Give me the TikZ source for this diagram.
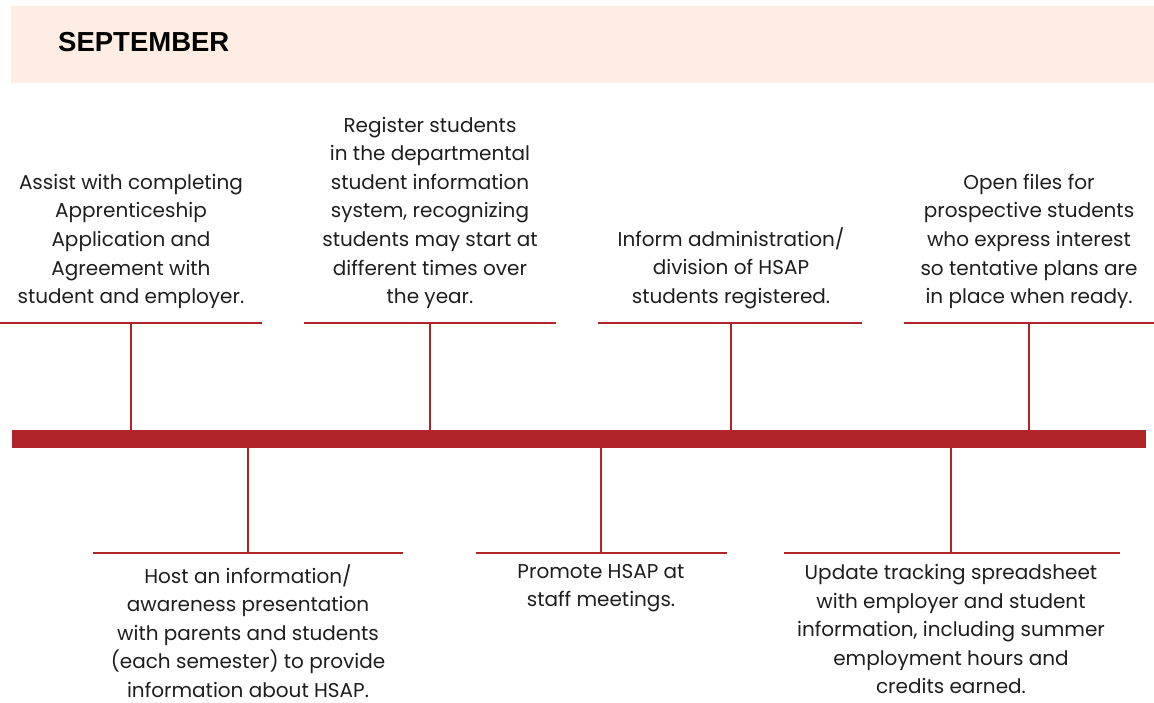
\documentclass[tikz,border=0pt]{standalone}
\usepackage{fontspec}
\setmainfont{Poppins}
\newfontfamily\headfont{Liberation Sans}
\definecolor{barred}{HTML}{B0242A}
\definecolor{peach}{HTML}{FDEDE2}
\definecolor{ink}{HTML}{1E1E1E}

\begin{document}
\begin{tikzpicture}[
    x=1pt, y=-1pt,
    event/.style={align=center, inner sep=0pt, text=ink, font=\fontsize{20}{28.6}\selectfont},
    rule/.style={draw=barred, line width=1.1pt},
    stem/.style={draw=barred, line width=1.2pt}
]
    \useasboundingbox (0,0) rectangle (1154,703);

    % Header band
    \fill[peach] (11,6) rectangle (1154,83);
    \node[anchor=west, inner sep=0pt, font=\headfont\fontsize{27.5}{30}\selectfont\bfseries] (month) at (58,42.5) {SEPTEMBER};

    % Timeline bar
    \node[fill=barred, minimum width=1134pt, minimum height=18pt, inner sep=0pt, anchor=north west] (timeline) at (12,430) {};

    % Events above the bar
    \node[event, anchor=south] (assist) at (131,309) {Assist with completing\\Apprenticeship\\Application and\\Agreement with\\student and employer.};
    \node[event, anchor=south] (register) at (430,309) {Register students\\in the departmental\\student information\\system, recognizing\\students may start at\\different times over\\the year.};
    \node[event, anchor=south] (inform) at (731,309) {Inform administration/\\division of HSAP\\students registered.};
    \node[event, anchor=south] (openfiles) at (1029,309) {Open files for\\prospective students\\who express interest\\so tentative plans are\\in place when ready.};

    % Events below the bar
    \node[event, anchor=north] (host) at (248,564) {Host an information/\\awareness presentation\\with parents and students\\(each semester) to provide\\information about HSAP.};
    \node[event, anchor=north] (promote) at (601,564) {Promote HSAP at\\staff meetings.};
    \node[event, anchor=north] (update) at (951,564) {Update tracking spreadsheet\\with employer and student\\information, including summer\\employment hours and\\credits earned.};

    % Rules under and over the texts
    \coordinate (a1) at (0,323);   \coordinate (a2) at (262,323);
    \coordinate (r1) at (304,323); \coordinate (r2) at (556,323);
    \coordinate (i1) at (598,323); \coordinate (i2) at (862,323);
    \coordinate (o1) at (904,323); \coordinate (o2) at (1154,323);
    \coordinate (h1) at (93,553);  \coordinate (h2) at (403,553);
    \coordinate (p1) at (476,553); \coordinate (p2) at (727,553);
    \coordinate (u1) at (784,553); \coordinate (u2) at (1120,553);
    \foreach \s/\e in {a1/a2, r1/r2, i1/i2, o1/o2, h1/h2, p1/p2, u1/u2}
        \draw[rule] (\s) -- (\e);

    % Stems to the bar
    \foreach \ev in {assist, register, inform, openfiles}
        \draw[stem] (\ev.south |- a1) -- (\ev.south |- timeline.north);
    \foreach \ev in {host, promote, update}
        \draw[stem] (\ev.north |- timeline.south) -- (\ev.north |- h1);

\end{tikzpicture}
\end{document}
